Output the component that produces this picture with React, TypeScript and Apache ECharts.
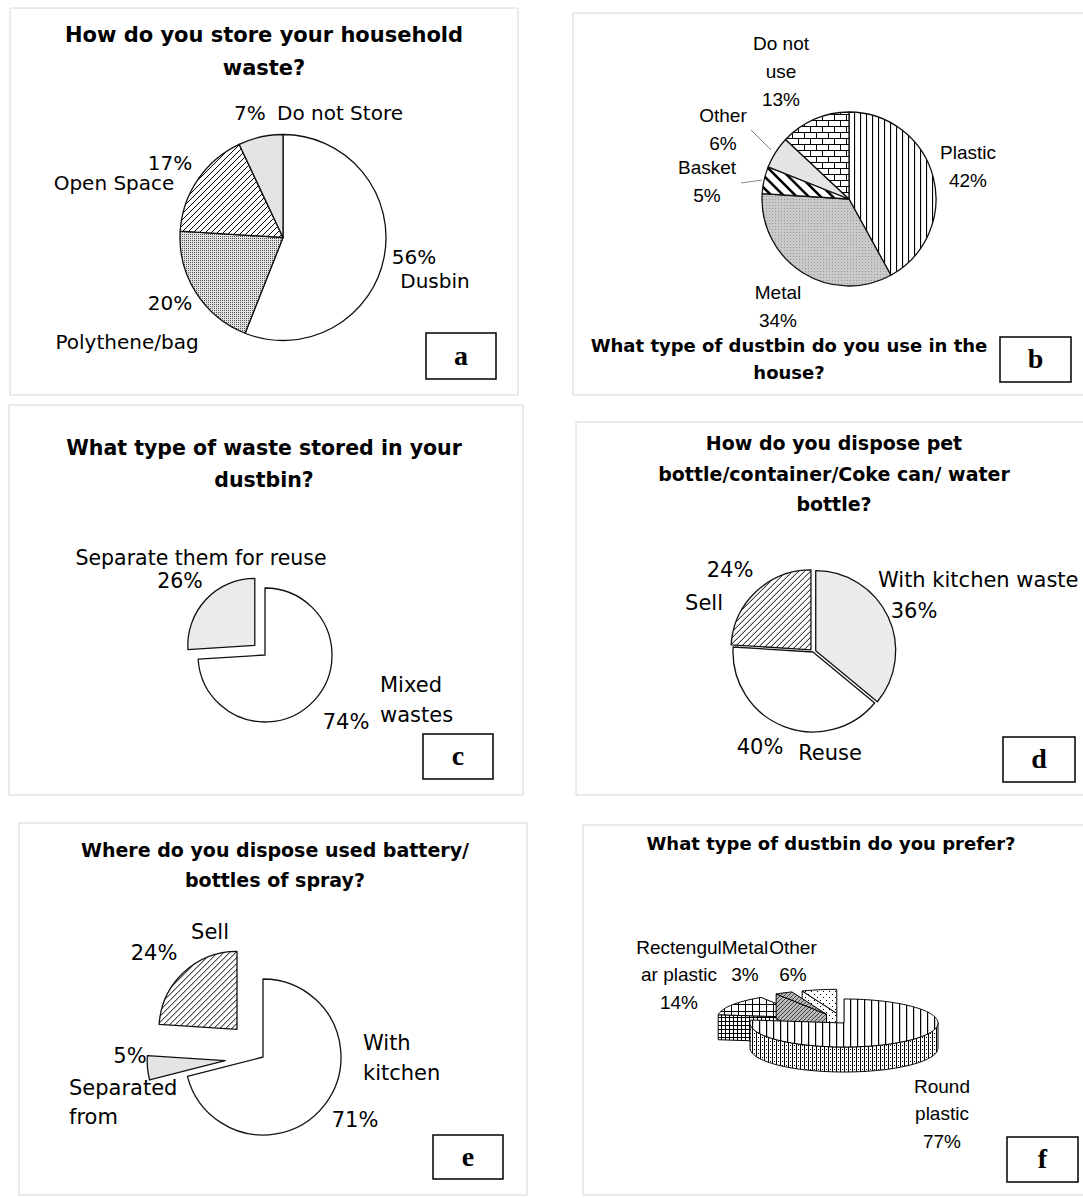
import React, { useEffect, useRef } from 'react';
import * as echarts from 'echarts';

// ---------------- data ----------------
const titleA = ['How do you store your household', 'waste?'];
const aNames = ['Dusbin', 'Polythene/bag', 'Open Space', 'Do not Store'];
const aValues = [56, 20, 17, 7];

const titleB = ['What type of dustbin do you use in the', 'house?'];
const bNames = ['Plastic', 'Metal', 'Basket', 'Other', 'Do not\nuse'];
const bValues = [42, 34, 5, 6, 13];

const titleC = ['What type of waste stored in your', 'dustbin?'];
const cNames = ['Mixed\nwastes', 'Separate them for reuse'];
const cValues = [74, 26];

const titleD = ['How do you dispose pet', 'bottle/container/Coke can/ water', 'bottle?'];
const dNames = ['With kitchen waste', 'Reuse', 'Sell'];
const dValues = [36, 40, 24];

const titleE = ['Where do you dispose used battery/', 'bottles of spray?'];
const eNames = ['With\nkitchen', 'Separated\nfrom', 'Sell'];
const eValues = [71, 5, 24];

const titleF = ['What type of dustbin do you prefer?'];
const fNames = ['Round\nplastic', 'Rectengul\nar plastic', 'Metal', 'Other'];
const fValues = [77, 14, 3, 6];

const panelLetters = ['a', 'b', 'c', 'd', 'e', 'f'];

// ---------------- styles ----------------
function tile(w: number, h: number, body: string, bg = '#ffffff') {
  const svg = `<svg xmlns="http://www.w3.org/2000/svg" width="${w}" height="${h}"><rect width="${w}" height="${h}" fill="${bg}"/>${body}</svg>`;
  return {
    image: 'data:image/svg+xml;charset=utf-8,' + encodeURIComponent(svg),
    repeat: 'repeat',
    imageWidth: w,
    imageHeight: h,
  };
}

const PAT = {
  white: '#ffffff',
  light: '#e4e4e4',
  pale: '#ebebeb',
  hatch: tile(6, 6, '<path d="M0,6L6,0M-1,1L1,-1M5,7L7,5" stroke="#000" stroke-width="1"/>'),
  dots: tile(2, 2, '<rect x="0" y="0" width="1" height="1" fill="#555"/>', '#e2e2e2'),
  vlines: tile(6, 6, '<rect x="2" y="0" width="1.1" height="6" fill="#000"/>'),
  brick: tile(12, 12, '<path d="M0,0.5H12M0,6.5H12M0.5,0V6.5M6.5,6.5V12" stroke="#000" stroke-width="1"/>'),
  basket: tile(12, 12, '<path d="M0,0L12,12M-2,10L2,14M10,-2L14,2" stroke="#000" stroke-width="2.6"/>'),
  metal: tile(3, 3, '<rect x="1" y="1" width="1" height="1" fill="#9a9a9a"/>', '#c9c9c9'),
  fRoundTop: tile(7, 7, '<rect x="3" y="0" width="1.2" height="7" fill="#000"/>'),
  fRoundSide: tile(4, 4, '<rect x="0" y="0" width="1" height="4" fill="#000"/><rect x="2" y="1" width="1" height="1" fill="#000"/>'),
  fRectTop: tile(7, 7, '<path d="M3.5,0V7M0,3.5H7" stroke="#000" stroke-width="1"/>'),
  fRectSide: tile(4, 4, '<path d="M1.5,0V4M0,1.5H4" stroke="#000" stroke-width="1"/>'),
  fMetal: tile(4, 4, '<path d="M0,4L4,0" stroke="#444" stroke-width="1"/>', '#b8b8b8'),
  fOther: tile(6, 6, '<rect x="1" y="1" width="1" height="1" fill="#000"/><rect x="4" y="4" width="1" height="1" fill="#000"/>'),
};

const aFills = [PAT.white, PAT.dots, PAT.hatch, PAT.light];
const bFills = [PAT.vlines, PAT.metal, PAT.basket, PAT.light, PAT.brick];
const cFills = [PAT.white, PAT.pale];
const dFills = [PAT.pale, PAT.white, PAT.hatch];
const eFills = [PAT.white, PAT.light, PAT.hatch];
const fTopFills = [PAT.fRoundTop, PAT.fRectTop, PAT.fMetal, PAT.fOther];
const fSideFills = [PAT.fRoundSide, PAT.fRectSide, PAT.fMetal, PAT.fOther];
const fExploded = [false, true, true, true];
const fZ = [40, 10, 30, 20];
const F3D = { cx: 844, cy: 1023, rx: 94, ry: 24, depth: 25, explode: 0.41 };

const TITLE = (s: number) => `bold ${s}px "DejaVu Sans"`;
const LAB = (s: number) => `${s}px "DejaVu Sans"`;
const LAB2 = (s: number) => `${s}px "Liberation Sans"`;

function pie(names: string[], values: number[], fills: any[], center: number[], radius: number, selected: boolean[], offset: number) {
  return {
    type: 'pie',
    center,
    radius,
    startAngle: 90,
    clockwise: true,
    silent: true,
    selectedMode: selected.some(Boolean) ? 'multiple' : false,
    selectedOffset: offset,
    label: { show: false },
    labelLine: { show: false },
    emphasis: { disabled: true },
    itemStyle: { borderColor: '#111', borderWidth: 1.3 },
    select: { itemStyle: { borderColor: '#111', borderWidth: 1.3 } },
    data: values.map((v, i) => ({ name: names[i], value: v, selected: selected[i], itemStyle: { color: fills[i] } })),
  };
}

function T(text: string, x: number, y: number, font: string, align = 'center', lh = 28) {
  return {
    type: 'text',
    silent: true,
    x,
    y: y - lh / 2,
    style: { text, font, fill: '#000', textAlign: align, textVerticalAlign: 'top', lineHeight: lh },
  };
}

function box(x: number, y: number, w: number, h: number, letter: string) {
  return [
    { type: 'rect', silent: true, shape: { x, y, width: w, height: h }, style: { fill: '#fff', stroke: '#000', lineWidth: 1.5 } },
    T(letter, x + w / 2, y + h / 2 - 1, 'bold 28px "Liberation Serif"', 'center', 32),
  ];
}

function frame(x: number, y: number, w: number, h: number) {
  return { type: 'rect', silent: true, shape: { x, y, width: w, height: h }, style: { fill: 'none', stroke: '#d6d6d6', lineWidth: 1 } };
}

const pct = (v: number) => `${v}%`;

export default function App() {
  const ref = useRef<HTMLDivElement>(null);
  useEffect(() => {
    if (!ref.current) return;
    const chart = echarts.init(ref.current, null, { renderer: 'svg' });

    const fTotal = fValues.reduce((s, v) => s + v, 0);
    const custom3D = {
      type: 'custom',
      coordinateSystem: 'none',
      silent: true,
      data: fValues.map((v, i) => ({ name: fNames[i], value: v })),
      renderItem: (params: any, api: any) => {
        const i = params.dataIndex;
        const v = api.value(0);
        let acc = 0;
        for (let k = 0; k < i; k++) acc += fValues[k];
        const t0 = (acc / fTotal) * Math.PI * 2;
        const t1 = ((acc + v) / fTotal) * Math.PI * 2;
        const mid = (t0 + t1) / 2;
        const e = fExploded[i] ? F3D.explode : 0;
        const cx = F3D.cx + Math.sin(mid) * F3D.rx * e;
        const cy = F3D.cy - Math.cos(mid) * F3D.ry * e;
        const D = F3D.depth;
        const pt = (t: number, d = 0) => [cx + F3D.rx * Math.sin(t), cy - F3D.ry * Math.cos(t) + d];
        const arc = (a: number, b: number, d: number) => {
          const n = Math.max(2, Math.ceil(Math.abs(b - a) / 0.03));
          const out: number[][] = [];
          for (let k = 0; k <= n; k++) out.push(pt(a + ((b - a) * k) / n, d));
          return out;
        };
        const st = { stroke: '#000', lineWidth: 1, lineJoin: 'round' };
        const z = fZ[i];
        const children: any[] = [];
        if (Math.sin(t0) < -1e-6) {
          children.push({ type: 'polygon', z2: z, shape: { points: [[cx, cy], pt(t0), pt(t0, D), [cx, cy + D]] }, style: { fill: fSideFills[i], ...st } });
        }
        if (Math.sin(t1) > 1e-6) {
          children.push({ type: 'polygon', z2: z, shape: { points: [[cx, cy], pt(t1), pt(t1, D), [cx, cy + D]] }, style: { fill: fSideFills[i], ...st } });
        }
        const w0 = Math.max(t0, Math.PI / 2);
        const w1 = Math.min(t1, (3 * Math.PI) / 2);
        if (w1 > w0) {
          children.push({ type: 'polygon', z2: z + 1, shape: { points: [...arc(w0, w1, 0), ...arc(w1, w0, D)] }, style: { fill: fSideFills[i], ...st } });
        }
        children.push({ type: 'polygon', z2: z + 2, shape: { points: [[cx, cy], ...arc(t0, t1, 0)] }, style: { fill: fTopFills[i], ...st } });
        return { type: 'group', children };
      },
    };

    const elements: any[] = [
      frame(10, 8, 508, 387),
      frame(573, 13, 520, 382),
      frame(9, 405, 514, 390),
      frame(576, 422, 520, 373),
      frame(19, 823, 508, 372),
      frame(583, 825, 510, 370),
      // titles
      T(titleA.join('\n'), 264, 35, TITLE(21), 'center', 33),
      T(titleB.join('\n'), 789, 345, TITLE(18), 'center', 27),
      T(titleC.join('\n'), 264, 448, TITLE(20.5), 'center', 32),
      T(titleD.join('\n'), 834, 443, TITLE(19), 'center', 30.5),
      T(titleE.join('\n'), 275, 850, TITLE(19), 'center', 30),
      T(titleF.join('\n'), 831, 843, TITLE(18), 'center', 28),
      // panel a labels
      T(pct(aValues[0]), 414, 257, LAB(20)),
      T(aNames[0], 435, 281, LAB(20)),
      T(pct(aValues[1]), 170, 303, LAB(20)),
      T(aNames[1], 127, 342, LAB(20)),
      T(pct(aValues[2]), 170, 163, LAB(20)),
      T(aNames[2], 114, 183, LAB(20)),
      T(pct(aValues[3]), 234, 113, LAB(20), 'left'),
      T(aNames[3], 277, 113, LAB(20), 'left'),
      // panel b labels
      T(`${bNames[0]}\n${pct(bValues[0])}`, 968, 152, LAB2(19)),
      T(`${bNames[1]}\n${pct(bValues[1])}`, 778, 292, LAB2(19)),
      T(`${bNames[2]}\n${pct(bValues[2])}`, 707, 167, LAB2(19)),
      T(`${bNames[3]}\n${pct(bValues[3])}`, 723, 115, LAB2(19)),
      T(`${bNames[4]}\n${pct(bValues[4])}`, 781, 43, LAB2(19)),
      { type: 'line', silent: true, shape: { x1: 751, y1: 130, x2: 771, y2: 150 }, style: { stroke: '#888', lineWidth: 1 } },
      { type: 'line', silent: true, shape: { x1: 741, y1: 183, x2: 762, y2: 180 }, style: { stroke: '#888', lineWidth: 1 } },
      // panel c labels
      T(cNames[0], 380, 685, LAB(21), 'left', 30),
      T(pct(cValues[0]), 346, 722, LAB(21)),
      T(cNames[1], 201, 558, LAB(20.5), 'center', 22),
      T(pct(cValues[1]), 180, 581, LAB(20.5), 'center', 22),
      // panel d labels
      T(dNames[0], 878, 580, LAB(21), 'left'),
      T(pct(dValues[0]), 914, 611, LAB(21)),
      T(pct(dValues[1]), 760, 747, LAB(21)),
      T(dNames[1], 830, 753, LAB(21)),
      T(pct(dValues[2]), 730, 570, LAB(21)),
      T(dNames[2], 704, 603, LAB(21)),
      // panel e labels
      T(eNames[0], 363, 1043, LAB(21), 'left', 30),
      T(pct(eValues[0]), 355, 1120, LAB(21)),
      T(pct(eValues[1]), 130, 1056, LAB(21)),
      T(eNames[1], 69, 1088, LAB(21), 'left', 29),
      T(eNames[2], 210, 932, LAB(21)),
      T(pct(eValues[2]), 154, 953, LAB(21)),
      // panel f labels
      T(`${fNames[0]}\n${pct(fValues[0])}`, 942, 1086, LAB2(19), 'center', 27.5),
      T(`${fNames[1]}\n${pct(fValues[1])}`, 679, 947, LAB2(19), 'center', 27.5),
      T(`${fNames[2]}\n${pct(fValues[2])}`, 745, 947, LAB2(19), 'center', 27.5),
      T(`${fNames[3]}\n${pct(fValues[3])}`, 793, 947, LAB2(19), 'center', 27.5),
      // letter boxes
      ...box(426, 333, 70, 46, panelLetters[0]),
      ...box(1000, 337, 71, 45, panelLetters[1]),
      ...box(423, 734, 70, 45, panelLetters[2]),
      ...box(1003, 737, 72, 45, panelLetters[3]),
      ...box(433, 1135, 70, 44, panelLetters[4]),
      ...box(1007, 1137, 71, 45, panelLetters[5]),
    ];

    chart.setOption({
      animation: false,
      backgroundColor: '#ffffff',
      graphic: { elements },
      series: [
        pie(aNames, aValues, aFills, [283, 237.5], 103, [false, false, false, false], 0),
        pie(bNames, bValues, bFills, [849, 199], 87, [false, false, false, false, false], 0),
        pie(cNames, cValues, cFills, [265, 655], 67, [false, true], 14),
        pie(dNames, dValues, dFills, [813, 652], 80, [true, false, true], 3),
        pie(eNames, eValues, eFills, [263, 1057], 78, [false, true, true], 38),
        custom3D,
      ],
    });
    return () => chart.dispose();
  }, []);
  return <div ref={ref} style={{ position: 'absolute', left: 0, top: 0, width: 1083, height: 1198, background: '#fff' }} />;
}
